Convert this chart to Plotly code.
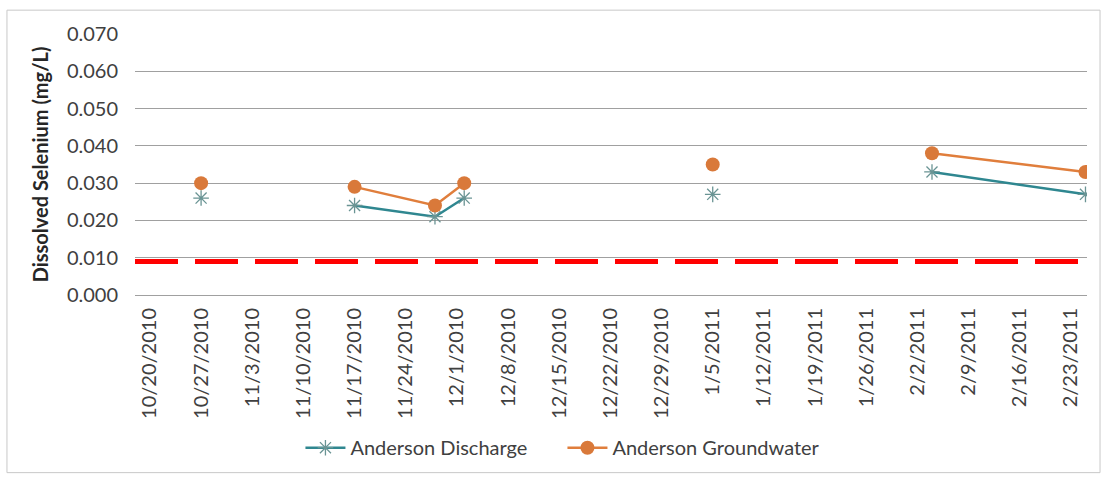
import plotly.graph_objects as go

# Sampling dates and dissolved selenium results (mg/L)
sample_dates = ["2010-10-27", "2010-11-17", "2010-11-28", "2010-12-02",
                "2011-01-05", "2011-02-04", "2011-02-25"]
discharge = [0.026, 0.024, 0.021, 0.026, 0.027, 0.033, 0.027]
groundwater = [0.030, 0.029, 0.024, 0.030, 0.035, 0.038, 0.033]

# Samples that start a new run (blank weeks between runs, so no connecting line)
run_starts = [1, 4, 5]

# Water quality criterion
criterion = 0.009

# Weekly tick dates
tick_dates = ["2010-10-20", "2010-10-27", "2010-11-03", "2010-11-10", "2010-11-17",
              "2010-11-24", "2010-12-01", "2010-12-08", "2010-12-15", "2010-12-22",
              "2010-12-29", "2011-01-05", "2011-01-12", "2011-01-19", "2011-01-26",
              "2011-02-02", "2011-02-09", "2011-02-16", "2011-02-23"]
tick_labels = ["10/20/2010", "10/27/2010", "11/3/2010", "11/10/2010", "11/17/2010",
               "11/24/2010", "12/1/2010", "12/8/2010", "12/15/2010", "12/22/2010",
               "12/29/2010", "1/5/2011", "1/12/2011", "1/19/2011", "1/26/2011",
               "2/2/2011", "2/9/2011", "2/16/2011", "2/23/2011"]


def with_breaks(xs, ys):
    """Insert None between runs so the line is broken across missing weeks."""
    bx, by = [], []
    for i, (xv, yv) in enumerate(zip(xs, ys)):
        if i in run_starts:
            bx.append(None)
            by.append(None)
        bx.append(xv)
        by.append(yv)
    return bx, by


teal = "#2F8790"
orange = "#E07E3C"
font_family = "Lato, 'Open Sans', sans-serif"

fig = go.Figure()

dx, dy = with_breaks(sample_dates, discharge)
fig.add_trace(go.Scatter(
    x=dx, y=dy, mode="lines+markers", name="Anderson Discharge", connectgaps=False,
    line=dict(color=teal, width=2.5),
    marker=dict(symbol="asterisk-open", size=13, color="#6A9494",
                line=dict(color="#6A9494", width=1.3))))

gx, gy = with_breaks(sample_dates, groundwater)
fig.add_trace(go.Scatter(
    x=gx, y=gy, mode="lines+markers", name="Anderson Groundwater", connectgaps=False,
    line=dict(color=orange, width=2.5),
    marker=dict(symbol="circle", size=14, color="#D9793A")))

fig.add_shape(type="line", xref="paper", x0=0, x1=1, yref="y", y0=criterion, y1=criterion,
              line=dict(color="#FF0000", width=5, dash="43px,17px"), layer="above")

# outer chart frame
fig.add_shape(type="rect", xref="paper", yref="paper",
              x0=-0.1345, x1=1.0137, y0=-0.6806, y1=1.0913,
              line=dict(color="#C8C8C8", width=1))

fig.update_layout(
    width=1107, height=479,
    margin=dict(l=135, r=20, t=34, b=182),
    paper_bgcolor="white", plot_bgcolor="white",
    font=dict(family=font_family, color="#404040"),
    showlegend=True,
    legend=dict(orientation="h", x=0.449, xanchor="center", y=-0.585, yanchor="middle",
                font=dict(size=20, color="#404040"), itemwidth=40,
                entrywidth=207, entrywidthmode="pixels",
                bgcolor="rgba(0,0,0,0)"),
    xaxis=dict(type="date", range=["2010-10-17 23:00", "2011-02-25 05:00"],
               tickvals=tick_dates, ticktext=tick_labels, tickangle=-90,
               tickfont=dict(size=20, color="#404040"), showgrid=False,
               showline=False, zeroline=False, ticks="", ticklabelstandoff=8),
    yaxis=dict(range=[0, 0.070], dtick=0.010, tickformat=".3f",
               tickfont=dict(size=20, color="#404040"),
               showgrid=True, gridcolor="#A0A0A0", gridwidth=1,
               zeroline=True, zerolinecolor="#A0A0A0", zerolinewidth=1,
               showline=False, ticks="", ticklabelstandoff=16,
               title=dict(text="<b>Dissolved Selenium (mg/L)</b>",
                          font=dict(size=20, color="#262626"), standoff=12)),
)

fig.write_html("out.html")
